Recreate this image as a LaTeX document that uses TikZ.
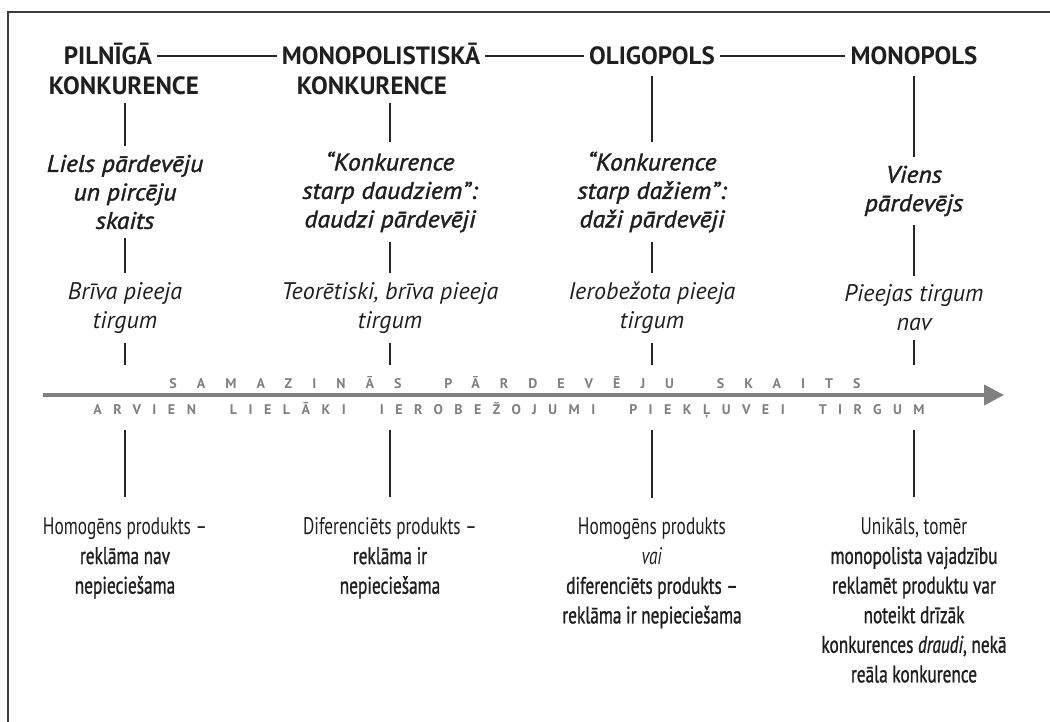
\documentclass[tikz,border=0pt]{standalone}
\usepackage{fontspec}
\setmainfont{PT Sans}
\newfontfamily\condfont[FakeStretch=0.72]{PT Sans}
\newfontfamily\condboldfont[FakeStretch=0.72,FakeBold=1]{PT Sans}
\newfontfamily\semifont[ItalicFeatures={FakeBold=1.6,FakeStretch=1.07}]{PT Sans}
\newfontfamily\axisupfont[LetterSpace=143]{PT Sans}
\newfontfamily\axisdownfont[LetterSpace=82]{PT Sans}
\newcommand{\heavy}[1]{{\condboldfont #1}}
\newcommand{\upgap}{\hspace{43pt}}
\newcommand{\downgap}{\hspace{34pt}}
\usetikzlibrary{arrows.meta}
\usetikzlibrary{positioning}

\definecolor{framegray}{HTML}{3C3C3C}
\definecolor{axisgray}{HTML}{808080}
\definecolor{labelgray}{HTML}{7F7F7F}

\tikzset{
  frame/.style={line width=2.5pt, draw=framegray},
  head/.style={inner xsep=5pt, inner ysep=8pt, text height=17.5pt, text depth=0pt,
    text=black!88, font=\fontsize{25}{30}\selectfont\bfseries},
  kind/.style={inner xsep=0pt, inner ysep=9pt, align=center, text=black!88,
    font=\fontsize{24}{28.5}\selectfont\semifont\itshape},
  entry/.style={inner xsep=0pt, inner ysep=9pt, align=center, text=black!88,
    font=\fontsize{24}{29}\selectfont\itshape},
  note/.style={inner xsep=0pt, inner ysep=20pt, align=center, text=black!88,
    font=\fontsize{24}{29.6}\selectfont\condfont},
  axislabel/.style={inner xsep=0pt, inner ysep=12pt, text=labelgray},
  link/.style={line width=2pt, draw=black!85},
  thinlink/.style={line width=1.5pt, draw=black!85},
  axis/.style={line width=4pt, draw=axisgray, -{Triangle[length=20pt,width=20pt]}},
}

\begin{document}
\begin{tikzpicture}[x=1pt,y=-1pt]
\useasboundingbox (0,0) rectangle (1050,722);
\draw[frame] (8,12) rectangle (1070,740);

% market types
\node[head](h1a) at (108,56) {PILNĪGĀ};
\node[head](h1b) at (124,86) {KONKURENCE};
\node[head](h2a) at (381,56) {MONOPOLISTISKĀ};
\node[head](h2b) at (372,86) {KONKURENCE};
\node[head](h3) at (652,56) {OLIGOPOLS};
\node[head](h4) at (914,56) {MONOPOLS};

% horizontal
\draw[thinlink] (h1a) -- (h2a);
\draw[thinlink] (h2a) -- (h3);
\draw[thinlink] (h3) -- (h4);

% number of sellers
\node[kind](r1) at (125,192) {Liels pārdevēju\\un pircēju\\skaits};
\node[kind](r2) at (390,192) {“Konkurence\\starp daudziem”:\\daudzi pārdevēji};
\node[kind](r3) at (652,192) {“Konkurence\\starp dažiem”:\\daži pārdevēji};
\node[kind](r4) at (914,191) {Viens\\pārdevējs};

% market entry
\node[entry](a1) at (125,308) {Brīva pieeja\\tirgum};
\node[entry](a2) at (390,308) {Teorētiski, brīva pieeja\\tirgum};
\node[entry](a3) at (652,308) {Ierobežota pieeja\\tirgum};
\node[entry](a4) at (914,308) {Pieejas tirgum\\nav};

% axis
\coordinate (axstart) at (43,395);
\coordinate (axend) at (1004,395);
\draw[axis] (axstart) -- (axend);
\node[axislabel, font=\fontsize{14}{16}\selectfont\axisupfont\bfseries](fewer) at (515,383) {SAMAZINĀS\upgap PĀRDEVĒJU\upgap SKAITS};
\node[axislabel, font=\fontsize{14}{16}\selectfont\axisdownfont\bfseries](barriers) at (509,410) {ARVIEN\downgap LIELĀKI\downgap IEROBEŽOJUMI\downgap PIEKĻUVEI\downgap TIRGUM};

% advertising
\node[note](b1) at (125,558) {Homogēns produkts –\\\heavy{reklāma nav}\\\heavy{nepiecie\v{s}ama}};
\node[note](b2) at (390,558) {Diferenciēts produkts –\\\heavy{reklāma ir}\\\heavy{nepiecie\v{s}ama}};
\node[note](b3) at (652,573) {Homogēns produkts\\\textit{vai}\\\heavy{diferenciēts produkts –}\\\heavy{reklāma ir nepiecie\v{s}ama}};
\node[note](b4) at (914,600) {Unikāls, tomēr\\\heavy{monopolista vajadzību}\\\heavy{reklamēt produktu var}\\\heavy{noteikt drīzāk}\\\heavy{konkurences \textit{draudi}, nekā}\\\heavy{reāla konkurence}};

% vertical
\draw[link] (r1 |- h1b.south) -- (r1);
\draw[link] (r2 |- h2b.south) -- (r2);
\draw[link, shorten <=3pt] (h3) -- (r3);
\draw[link, shorten <=3pt] (h4) -- (r4);

\draw[link] (r1) -- (a1);
\draw[link] (r2) -- (a2);
\draw[link] (r3) -- (a3);
\draw[link] (r4) -- (a4);

\draw[link] (a1) -- (a1 |- fewer.north);
\draw[link] (a2) -- (a2 |- fewer.north);
\draw[link] (a3) -- (a3 |- fewer.north);
\draw[link] (a4) -- (a4 |- fewer.north);

\draw[link] (b1 |- barriers.south) -- (b1);
\draw[link] (b2 |- barriers.south) -- (b2);
\draw[link] (b3 |- barriers.south) -- (b3);
\draw[link] (b4 |- barriers.south) -- (b4);

\end{tikzpicture}
\end{document}
